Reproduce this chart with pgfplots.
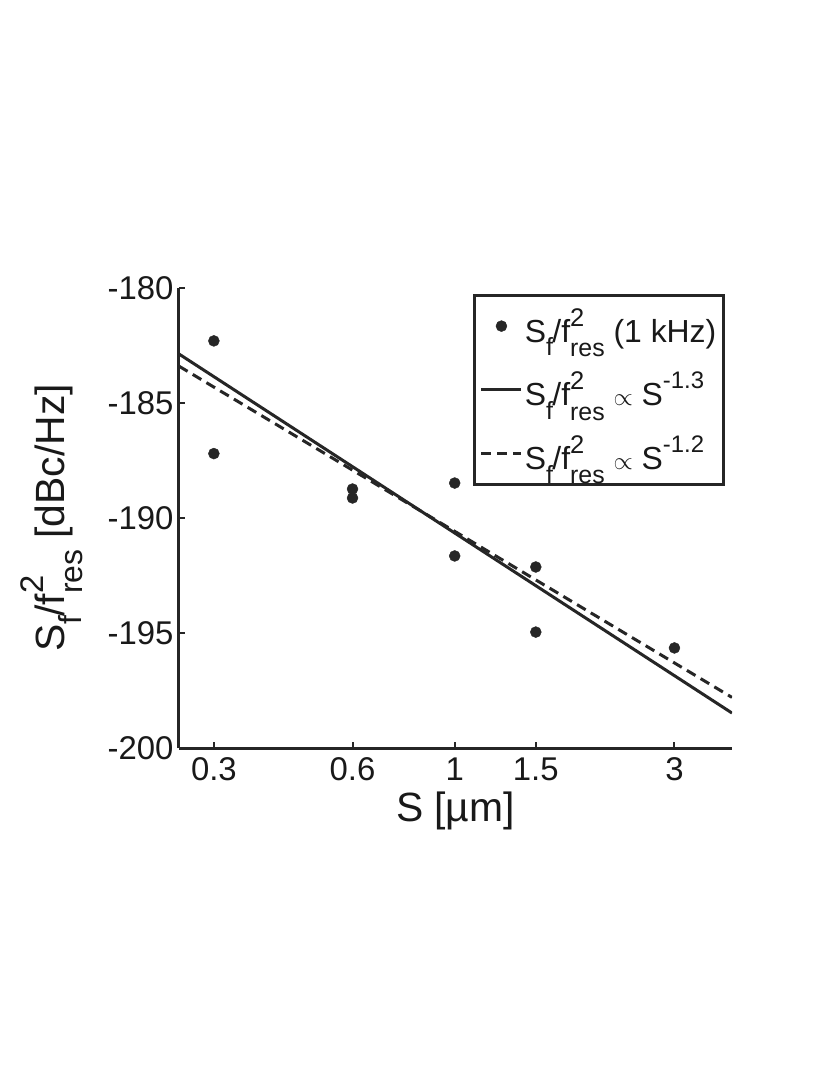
\documentclass[border=0pt]{standalone}
\usepackage{pgfplots}
\usepackage{graphicx}
\pgfplotsset{compat=1.18}
\usepackage{fontspec}
\setmainfont{Liberation Sans}
\newcommand{\Sf}{S\raisebox{-0.42em}{\scalebox{0.78}{f}}\kern-0.02em/f\makebox[0pt][l]{\raisebox{0.5em}{\scalebox{0.8}{2}}}\raisebox{-0.45em}{\scalebox{0.78}{res}}}
\newcommand{\Sup}[1]{\raisebox{0.55em}{\scalebox{0.75}{#1}}}
\begin{document}
\begin{tikzpicture}
\path[use as bounding box, fill=white] (-179bp,-327bp) rectangle (651bp,748bp);
\begin{axis}[at={(0,0)}, anchor=south west, scale only axis, width=553bp, height=460bp,
 xmode=log, xmin=0.252, xmax=4, ymin=-200, ymax=-180,
 axis lines=left, axis line style={-, line width=3bp, black!85},
 xtick={0.3,0.6,1,1.5,3}, xticklabels={0.3,0.6,1,1.5,3},
 ytick={-200,-195,-190,-185,-180}, yticklabels={-200,-195,-190,-185,-180},
 xminorticks=false, yminorticks=false,
 tick style={line width=2bp, black!85}, major tick length=6bp, tick align=inside,
 tick label style={font=\fontsize{33}{38}\selectfont, text=black!90},
 xticklabel style={yshift=-6bp},
 yticklabel style={xshift=-2bp},
 xlabel={S [µm]}, ylabel={\Sf{} [dBc/Hz]},
 label style={font=\fontsize{41}{46}\selectfont, text=black!90},
 xlabel style={yshift=-4bp},
 ylabel style={yshift=18bp},
 legend style={at={(rel axis cs:0.987,0.987)}, anchor=north east, draw=black!85, line width=3bp,
   font=\fontsize{32}{36}\selectfont, inner xsep=5bp, inner ysep=11bp, row sep=24bp, cells={anchor=west}, text=black!90},
 legend image code/.code={\draw[mark repeat=2,mark phase=2,#1] plot coordinates {(0bp,0bp) (20bp,0bp) (40bp,0bp)};},
]
\addplot[only marks, mark=*, mark size=5.5bp, black!85, mark options={line width=0.4bp, fill=black!85}] coordinates {(0.3,-182.3) (0.3,-187.2) (0.6,-188.74) (0.6,-189.13) (1,-188.48) (1,-191.65) (1.5,-192.13) (1.5,-194.96) (3,-195.65)};
\addlegendentry{\Sf{} (1 kHz)}
\addplot[black!85, line width=3bp] coordinates {(0.252,-182.87) (4,-198.48)};
\addlegendentry{\Sf{} $\propto$ S\Sup{-1.3}}
\addplot[black!85, line width=3bp, dash pattern=on 10bp off 6bp] coordinates {(0.252,-183.4) (4,-197.8)};
\addlegendentry{\Sf{} $\propto$ S\Sup{-1.2}}
\end{axis}
\end{tikzpicture}
\end{document}
